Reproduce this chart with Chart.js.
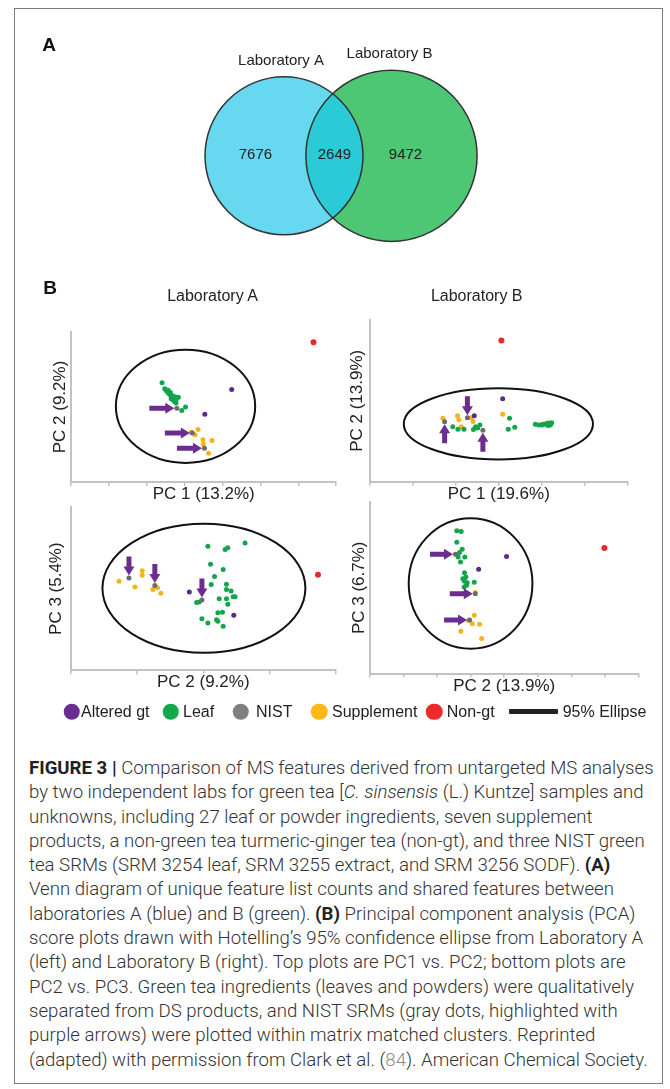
<!DOCTYPE html>
<html>
<head>
<title>Figure 3 - MS features of green tea samples</title>
<script src="https://cdn.jsdelivr.net/npm/chart.js"></script>
<style>
body {
  margin: 0;
  padding: 0;
  width: 670px;
  height: 1089px;
  position: relative;
  overflow: hidden;
  background: #fff;
  font-family: "Liberation Sans", Arial, sans-serif;
  color: #222;
}
#frame {
  position: absolute;
  left: 14px;
  top: 8px;
  width: 647px;
  height: 1074px;
  border: 1px solid #7c7c7c;
}
canvas {
  position: absolute;
}
.ctr {
  position: absolute;
  transform: translate(-50%, -50%);
  line-height: 1;
  white-space: nowrap;
}
.panel {
  font-weight: bold;
  font-size: 19px;
  color: #111;
}
.head {
  font-size: 16px;
}
.leg-dot {
  position: absolute;
  width: 16.5px;
  height: 16.5px;
  border-radius: 50%;
  transform: translate(-50%, -50%);
}
.leg-text {
  position: absolute;
  font-size: 16px;
  line-height: 1;
  transform: translateY(-50%);
  white-space: nowrap;
  color: #222;
}
#caption {
  position: absolute;
  left: 29px;
  top: 756px;
  line-height: 24.3px;
  white-space: nowrap;
  color: #333;
  font-family: Roboto, "Liberation Sans", sans-serif;
  font-weight: 300;
}
#caption b {
  font-weight: bold;
  color: #222;
}
#caption .ref {
  color: #8a8a8a;
}
</style>
</head>
<body>
<div id="frame"></div>

<canvas id="venn"></canvas>
<canvas id="a12"></canvas>
<canvas id="b12"></canvas>
<canvas id="a23"></canvas>
<canvas id="b23"></canvas>

<div class="ctr panel" style="left:49px; top:43.5px;">A</div>
<div class="ctr panel" style="left:50px; top:286.5px;">B</div>
<div class="ctr head" style="left:212.5px; top:296px;">Laboratory A</div>
<div class="ctr head" style="left:476.7px; top:296px;">Laboratory B</div>

<div id="legend"></div>

<div id="caption">
<span class="ln"><b>FIGURE 3 |</b> Comparison of MS features derived from untargeted MS analyses</span><br>
<span class="ln">by two independent labs for green tea [<i>C. sinsensis</i> (L.) Kuntze] samples and</span><br>
<span class="ln">unknowns, including 27 leaf or powder ingredients, seven supplement</span><br>
<span class="ln">products, a non-green tea turmeric-ginger tea (non-gt), and three NIST green</span><br>
<span class="ln">tea SRMs (SRM 3254 leaf, SRM 3255 extract, and SRM 3256 SODF). <b>(A)</b></span><br>
<span class="ln">Venn diagram of unique feature list counts and shared features between</span><br>
<span class="ln">laboratories A (blue) and B (green). <b>(B)</b> Principal component analysis (PCA)</span><br>
<span class="ln">score plots drawn with Hotelling’s 95% confidence ellipse from Laboratory A</span><br>
<span class="ln">(left) and Laboratory B (right). Top plots are PC1 vs. PC2; bottom plots are</span><br>
<span class="ln">PC2 vs. PC3. Green tea ingredients (leaves and powders) were qualitatively</span><br>
<span class="ln">separated from DS products, and NIST SRMs (gray dots, highlighted with</span><br>
<span class="ln">purple arrows) were plotted within matrix matched clusters. Reprinted</span><br>
<span class="ln">(adapted) with permission from Clark et al. (<span class="ref">84</span>). American Chemical Society.</span>
</div>

<script>
// ---- Venn (panel A) ----
const vennSets = ['Laboratory A', 'Laboratory B'];
const vennOnly = [7676, 9472];
const vennShared = 2649;

// ---- PCA groups ----
const groups = ['Altered gt', 'Leaf', 'NIST', 'Supplement', 'Non-gt'];

// Laboratory A, PC1 vs PC2
const labA_pc12_altered = [[4.24, 2.47], [3.53, 1.81]];
const labA_pc12_leaf = [[2.40, 2.65], [2.47, 2.49], [2.50, 2.46], [2.52, 2.43], [2.55, 2.41], [2.57, 2.37], [2.60, 2.35], [2.63, 2.31], [2.66, 2.29], [2.68, 2.30], [2.71, 2.26], [2.75, 2.27], [2.79, 2.23], [2.83, 2.26], [2.64, 2.22], [2.69, 2.19], [2.73, 2.15], [2.77, 2.11], [2.56, 2.45], [2.62, 2.39], [2.76, 2.19], [2.92, 1.91], [3.02, 2.00]];
const labA_pc12_nist = [[2.79, 1.97], [3.20, 1.31], [3.52, 0.90]];
const labA_pc12_supp = [[3.17, 1.33], [3.35, 1.40], [3.27, 1.26], [3.48, 1.13], [3.72, 1.11], [3.49, 1.01], [3.63, 0.77]];
const labA_pc12_nongt = [[6.40, 3.73]];

// Laboratory B, PC1 vs PC2
const labB_pc12_altered = [[3.09, 2.05], [2.43, 1.63]];
const labB_pc12_leaf = [[1.93, 1.36], [2.05, 1.30], [2.19, 1.30], [2.41, 1.29], [2.46, 1.36], [2.56, 1.40], [2.51, 1.33], [3.25, 1.57], [3.22, 1.30], [3.37, 1.35], [3.85, 1.42], [3.93, 1.40], [3.99, 1.41], [4.05, 1.42], [4.11, 1.44], [4.16, 1.45], [4.20, 1.40], [4.23, 1.46], [4.14, 1.39], [4.01, 1.40]];
const labB_pc12_nist = [[1.74, 1.48], [2.27, 1.58], [2.63, 1.27]];
const labB_pc12_supp = [[1.70, 1.57], [2.04, 1.63], [2.07, 1.53], [2.13, 1.36], [2.36, 1.58], [2.40, 1.49], [3.09, 1.67]];
const labB_pc12_nongt = [[3.06, 3.49]];

// Laboratory A, PC2 vs PC3
const labA_pc23_altered = [[1.79, 1.92], [2.46, 1.35]];
const labA_pc23_leaf = [[2.07, 3.04], [2.33, 2.96], [2.37, 3.00], [2.63, 3.12], [2.11, 2.60], [2.30, 2.47], [2.17, 2.30], [2.12, 2.10], [2.35, 2.11], [2.35, 1.98], [2.42, 1.94], [2.24, 1.75], [2.35, 1.75], [2.45, 1.80], [2.48, 1.80], [2.37, 1.62], [1.90, 1.66], [1.94, 1.67], [2.22, 1.41], [2.29, 1.42], [1.98, 1.26], [2.20, 1.24], [2.07, 1.16], [2.22, 1.20], [2.30, 1.08]];
const labA_pc23_nist = [[0.88, 2.26], [1.27, 2.08], [1.98, 1.72]];
const labA_pc23_supp = [[0.73, 2.18], [0.97, 2.04], [1.08, 2.44], [1.08, 2.33], [1.24, 1.98], [1.31, 2.02], [1.36, 1.89]];
const labA_pc23_nongt = [[3.73, 2.34]];

// Laboratory B, PC2 vs PC3
const labB_pc23_altered = [[4.07, 2.73], [3.24, 2.43]];
const labB_pc23_leaf = [[2.59, 3.33], [2.72, 3.31], [2.59, 3.06], [2.75, 2.90], [2.63, 2.72], [2.83, 2.72], [2.70, 2.60], [2.67, 2.82], [2.82, 2.35], [2.77, 2.21], [2.86, 2.25], [2.82, 2.15], [2.90, 2.12], [2.81, 2.02], [2.88, 2.06], [3.11, 2.13]];
const labB_pc23_nist = [[2.55, 2.78], [3.14, 1.86], [2.97, 1.25]];
const labB_pc23_supp = [[3.14, 1.89], [3.11, 1.36], [3.05, 1.16], [3.27, 1.15], [2.71, 0.99], [3.33, 0.82], [2.94, 1.24]];
const labB_pc23_nongt = [[6.98, 2.93]];

// 95% Hotelling ellipses: [centre x, centre y, semi-axis x, semi-axis y]
const ellipseA12 = [3.02, 2.02, 1.84, 1.51];
const ellipseB12 = [2.99, 1.43, 2.20, 0.88];
const ellipseA23 = [2.01, 2.01, 1.53, 1.58];
const ellipseB23 = [3.00, 2.10, 1.84, 1.52];

// axis extents (number of tick intervals on the x axis)
const xTicksA12 = 7, xTicksB12 = 6, xTicksA23 = 4, xTicksB23 = 8;

// ---- styles ----
const pointColors = ['#5b2a86', '#14a44b', '#6b6b6b', '#f5b41c', '#e52a2b'];
const legendColors = ['#6a2d91', '#13a84b', '#808080', '#fdb813', '#ee2a2b'];
const arrowColor = '#6c2d91';
const axisColor = '#c2c2c2';
const titleFont = { family: 'Liberation Sans', size: 17 };

Chart.defaults.font.family = 'Liberation Sans';
Chart.defaults.color = '#222';

// ---- Venn chart ----
const vennLayout = { cxA: 284, cxB: 391.5, cy: 155.8, width: 670, height: 312, radiusK: 0.7775 };
const vennColors = { a: '#66d8ef', b: '#4dc773', both: '#2acad7', edge: '#333' };

(function () {
  const c = document.getElementById('venn');
  c.width = vennLayout.width; c.height = vennLayout.height;
  c.style.left = '0px'; c.style.top = '0px';
  const pxPerUnit = vennLayout.cxB - vennLayout.cxA;
  const xMin = -vennLayout.cxA / pxPerUnit;
  const xMax = xMin + vennLayout.width / pxPerUnit;
  const yHalf = vennLayout.cy;
  const totals = [vennOnly[0] + vennShared, vennOnly[1] + vennShared];
  const fills = [vennColors.a, vennColors.b];

  const vennPlugin = {
    id: 'vennOverlap',
    afterDatasetsDraw(chart) {
      const ctx = chart.ctx;
      const a = chart.getDatasetMeta(0).data[0];
      const b = chart.getDatasetMeta(1).data[0];
      const ra = a.options.radius, rb = b.options.radius;
      ctx.save();
      ctx.beginPath(); ctx.arc(a.x, a.y, ra, 0, Math.PI * 2); ctx.clip();
      ctx.beginPath(); ctx.arc(b.x, b.y, rb, 0, Math.PI * 2);
      ctx.fillStyle = vennColors.both; ctx.fill();
      ctx.restore();
      ctx.save();
      ctx.lineWidth = 1.5; ctx.strokeStyle = vennColors.edge;
      [[a, ra], [b, rb]].forEach(([el, r]) => {
        ctx.beginPath(); ctx.arc(el.x, el.y, r, 0, Math.PI * 2); ctx.stroke();
      });
      ctx.fillStyle = '#222';
      ctx.textAlign = 'center'; ctx.textBaseline = 'middle';
      ctx.font = '15px "Liberation Sans"';
      ctx.fillText(vennSets[0], a.x - 3, a.y - ra - 16);
      ctx.fillText(vennSets[1], b.x - 2, b.y - rb - 16);
      const lensMid = ((b.x - rb) + (a.x + ra)) / 2;
      ctx.fillText(String(vennOnly[0]), ((a.x - ra) + (b.x - rb)) / 2, a.y - 1);
      ctx.fillText(String(vennShared), lensMid, a.y - 1);
      ctx.fillText(String(vennOnly[1]), b.x + 14, b.y - 1);
      ctx.restore();
    }
  };

  new Chart(c, {
    type: 'bubble',
    data: {
      datasets: vennSets.map((name, i) => ({
        label: name,
        data: [{ x: i, y: 0, r: vennLayout.radiusK * Math.sqrt(totals[i]) }],
        backgroundColor: fills[i],
        borderColor: vennColors.edge,
        borderWidth: 0,
        clip: false
      }))
    },
    options: {
      responsive: false,
      animation: false,
      events: [],
      layout: { autoPadding: false, padding: 0 },
      plugins: { legend: { display: false }, tooltip: { enabled: false } },
      scales: {
        x: { display: false, type: 'linear', min: xMin, max: xMax },
        y: { display: false, type: 'linear', min: -(vennLayout.height - yHalf), max: yHalf }
      }
    },
    plugins: [vennPlugin]
  });
})();

// ---- PCA score plots ----
const ellipsePlugin = {
  id: 'ellipse95',
  beforeDatasetsDraw(chart, args, opts) {
    const [cx, cy, rx, ry] = opts.values;
    const xs = chart.scales.x, ys = chart.scales.y;
    const px = xs.getPixelForValue(cx), py = ys.getPixelForValue(cy);
    const prx = Math.abs(xs.getPixelForValue(cx + rx) - px);
    const pry = Math.abs(ys.getPixelForValue(cy + ry) - py);
    const ctx = chart.ctx;
    ctx.save();
    ctx.beginPath();
    ctx.ellipse(px, py, prx, pry, 0, 0, Math.PI * 2);
    ctx.lineWidth = 2;
    ctx.strokeStyle = '#111';
    ctx.stroke();
    ctx.restore();
  }
};

function drawArrow(ctx, px, py, dir, len) {
  const gap = 2.5, head = 9, hw = 5.5, sw = 2.5;
  const d = { right: [1, 0], left: [-1, 0], up: [0, -1], down: [0, 1] }[dir];
  const tipX = px - d[0] * gap, tipY = py - d[1] * gap;
  const tailX = tipX - d[0] * len, tailY = tipY - d[1] * len;
  const nx = -d[1], ny = d[0];
  const bx = tipX - d[0] * head, by = tipY - d[1] * head;
  ctx.beginPath();
  ctx.moveTo(tailX + nx * sw, tailY + ny * sw);
  ctx.lineTo(bx + nx * sw, by + ny * sw);
  ctx.lineTo(bx + nx * hw, by + ny * hw);
  ctx.lineTo(tipX, tipY);
  ctx.lineTo(bx - nx * hw, by - ny * hw);
  ctx.lineTo(bx - nx * sw, by - ny * sw);
  ctx.lineTo(tailX - nx * sw, tailY - ny * sw);
  ctx.closePath();
  ctx.fill();
}

const arrowPlugin = {
  id: 'nistArrows',
  afterDatasetsDraw(chart, args, opts) {
    const idx = groups.indexOf('NIST');
    const meta = chart.getDatasetMeta(idx);
    const ctx = chart.ctx;
    ctx.save();
    ctx.fillStyle = arrowColor;
    meta.data.forEach((el, i) => drawArrow(ctx, el.x, el.y, opts.dirs[i], opts.len));
    ctx.restore();
  }
};

function scatterChart(id, p) {
  const lh = titleFont.size * 1.2;
  const [L, T, R, B] = p.area;
  const cl = p.yTitleX - lh / 2;
  const ct = T - 10;
  const w = Math.round(R + 14 - cl);
  const h = Math.round(p.xTitleY + lh / 2 - ct);
  const c = document.getElementById(id);
  c.width = w; c.height = h;
  c.style.left = cl + 'px'; c.style.top = ct + 'px';

  new Chart(c, {
    type: 'scatter',
    data: {
      datasets: groups.map((g, i) => ({
        label: g,
        data: p.series[i].map(([x, y]) => ({ x, y })),
        backgroundColor: pointColors[i],
        borderWidth: 0,
        pointRadius: g === 'Non-gt' ? 3 : 2.5,
        order: g === 'NIST' ? 0 : 1
      }))
    },
    options: {
      responsive: false,
      animation: false,
      events: [],
      layout: { autoPadding: false, padding: { left: 0, top: T - ct, right: cl + w - R, bottom: 0 } },
      plugins: {
        legend: { display: false },
        tooltip: { enabled: false },
        ellipse95: { values: p.ellipse },
        nistArrows: { dirs: p.arrows, len: p.arrowLen }
      },
      scales: {
        x: {
          type: 'linear', min: 0, max: p.xMax,
          ticks: { display: false, stepSize: 1 },
          grid: { drawOnChartArea: false, drawTicks: true, tickLength: 4, color: axisColor, lineWidth: 1.5 },
          border: { color: axisColor, width: 2 },
          title: { display: true, text: p.xTitle, font: titleFont, color: '#222', padding: 0 },
          afterFit(s) { s.height = ct + h - B; }
        },
        y: {
          type: 'linear', min: 0, max: 4,
          ticks: { display: false },
          grid: { display: false },
          border: { color: axisColor, width: 2 },
          title: { display: true, text: p.yTitle, font: titleFont, color: '#222', padding: 0 },
          afterFit(s) { s.width = L - cl; }
        }
      }
    },
    plugins: [ellipsePlugin, arrowPlugin]
  });
}

scatterChart('a12', {
  area: [71, 331.7, 336, 481.7], yTitleX: 60, xTitleY: 494.5,
  xMax: xTicksA12, xTitle: 'PC 1 (13.2%)', yTitle: 'PC 2 (9.2%)',
  series: [labA_pc12_altered, labA_pc12_leaf, labA_pc12_nist, labA_pc12_supp, labA_pc12_nongt],
  ellipse: ellipseA12, arrows: ['right', 'right', 'right'], arrowLen: 25
});
scatterChart('b12', {
  area: [369.3, 320, 627.3, 481.7], yTitleX: 356.7, xTitleY: 494.5,
  xMax: xTicksB12, xTitle: 'PC 1 (19.6%)', yTitle: 'PC 2 (13.9%)',
  series: [labB_pc12_altered, labB_pc12_leaf, labB_pc12_nist, labB_pc12_supp, labB_pc12_nongt],
  ellipse: ellipseB12, arrows: ['up', 'down', 'up'], arrowLen: 19
});
scatterChart('a23', {
  area: [70.7, 506.7, 336, 670], yTitleX: 56.3, xTitleY: 682.5,
  xMax: xTicksA23, xTitle: 'PC 2 (9.2%)', yTitle: 'PC 3 (5.4%)',
  series: [labA_pc23_altered, labA_pc23_leaf, labA_pc23_nist, labA_pc23_supp, labA_pc23_nongt],
  ellipse: ellipseA23, arrows: ['down', 'down', 'down'], arrowLen: 19
});
scatterChart('b23', {
  area: [369.3, 501.7, 638.3, 673.3], yTitleX: 358.8, xTitleY: 686.7,
  xMax: xTicksB23, xTitle: 'PC 2 (13.9%)', yTitle: 'PC 3 (6.7%)',
  series: [labB_pc23_altered, labB_pc23_leaf, labB_pc23_nist, labB_pc23_supp, labB_pc23_nongt],
  ellipse: ellipseB23, arrows: ['right', 'right', 'right'], arrowLen: 23
});

// ---- legend ----
const legendY = 711.7;
const legendDotX = [71.7, 170.7, 240.7, 319, 434];
const legendTextX = [81, 183, 256, 332, 446.7];
const legendLine = { x1: 509, x2: 558.3, tx: 562.7 };
(function () {
  const box = document.getElementById('legend');
  let html = '';
  groups.forEach((g, i) => {
    html += `<div class="leg-dot" style="left:${legendDotX[i]}px; top:${legendY}px; background:${legendColors[i]}"></div>`;
    html += `<div class="leg-text" style="left:${legendTextX[i]}px; top:${legendY}px">${g}</div>`;
  });
  html += `<div style="position:absolute; left:${legendLine.x1}px; top:${legendY - 2.5}px; width:${legendLine.x2 - legendLine.x1}px; height:5px; background:#222; border-radius:1px"></div>`;
  html += `<div class="leg-text" style="left:${legendLine.tx}px; top:${legendY}px">95% Ellipse</div>`;
  box.innerHTML = html;
})();

// ---- fit caption font so the first line spans the text block ----
(function () {
  const cap = document.getElementById('caption');
  cap.style.fontSize = '17px';
  const first = cap.querySelector('.ln');
  const w = first.getBoundingClientRect().width;
  cap.style.fontSize = (17 * 625 / w).toFixed(2) + 'px';
})();
</script>
</body>
</html>
